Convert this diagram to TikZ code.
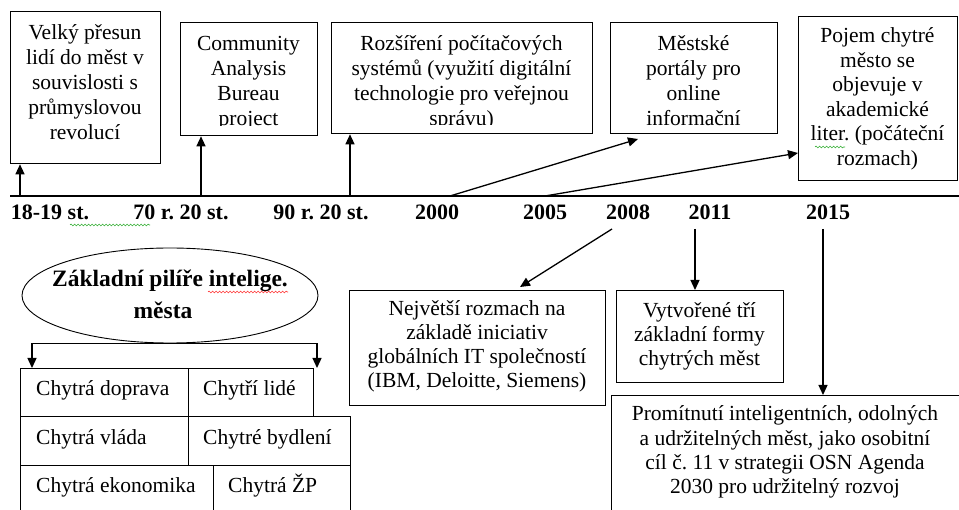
\documentclass[tikz,border=0pt]{standalone}
\usepackage{fontspec}
\setmainfont{Liberation Serif}
\usetikzlibrary{arrows.meta,shapes.geometric,decorations.pathmorphing}
\frenchspacing

\begin{document}
\begin{tikzpicture}[x=1pt,y=-1pt,
  box/.style={draw,line width=1.3pt,inner sep=0,anchor=north west},
  txt/.style={align=center,inner sep=0,anchor=north,font=\fontsize{21.5}{25}\selectfont},
  celltxt/.style={inner sep=0,anchor=base west,font=\fontsize{21.5}{25}\selectfont},
  yr/.style={inner sep=0,anchor=base,font=\fontsize{22}{25}\selectfont\bfseries},
  ellfont/.style={inner sep=0,anchor=base,font=\fontsize{23.5}{25}\selectfont\bfseries},
  arr/.style={line width=1.3pt,-{Triangle[length=10pt,width=9pt]}},
  squiggle/.style={line width=0.6pt,decorate,decoration={snake,amplitude=0.9pt,segment length=3.5pt}}
]
\useasboundingbox (0,0) rectangle (959,510);
\clip (0,0) rectangle (959,510);

% timeline
\coordinate (tl0) at (10,196);
\coordinate (tl1) at (962,196);
\draw[line width=1.5pt] (tl0) -- (tl1);

% year labels
\node[yr] (y1) at (50,220) {18-19 st.};
\node[yr] (y2) at (181,220) {70 r. 20 st.};
\node[yr] (y3) at (321,220) {90 r. 20 st.};
\node[yr] (y4) at (437,220) {2000};
\node[yr] (y5) at (545,220) {2005};
\node[yr] (y6) at (628,220) {2008};
\node[yr] (y7) at (710,220) {2011};
\node[yr] (y8) at (828,220) {2015};

% upper event boxes
\node[box,minimum width=150pt,minimum height=152pt] (b1) at (10,11) {};
\node[txt] (t1) at (85,21.5) {\strut Velký přesun\\lidí do měst v\\souvislosti s\\průmyslovou\\revolucí};

\node[box,minimum width=137pt,minimum height=113pt] (b2) at (180,22) {};
\begin{scope}
  \clip (180,22) rectangle (317,126);
  \node[txt] (t2) at (248.5,32.5) {\strut Community\\Analysis\\Bureau\\project};
\end{scope}

\node[box,minimum width=261pt,minimum height=111pt] (b3) at (331,22) {};
\begin{scope}
  \clip (331,22) rectangle (592,125);
  \node[txt] (t3) at (461.5,32.5) {\strut Rozšíření počítačových\\systémů (využití digitální\\technologie pro veřejnou\\správu)};
\end{scope}

\node[box,minimum width=167pt,minimum height=111pt] (b4) at (610,22) {};
\node[txt] (t4) at (693.5,32.5) {\strut Městské\\portály pro\\online\\informační};

\node[box,minimum width=159pt,minimum height=164pt] (b5) at (798,16) {};
\node[txt,font=\fontsize{21.5}{24.5}\selectfont] (t5) at (877.5,25.5) {\strut Pojem chytré\\město se\\objevuje v\\akademické\\liter. (počáteční\\rozmach)};

% arrows from the timeline up to the boxes
\coordinate (p1) at (20,196);
\coordinate (p2) at (201,196);
\coordinate (p3) at (350,196);
\coordinate (p4) at (450,196);
\coordinate (p5) at (545,196);
\draw[arr] (p1) -- (p1 |- b1.south);
\draw[arr] (p2) -- (p2 |- b2.south);
\draw[arr] (p3) -- (p3 |- b3.south);
\coordinate (e4) at (638,139);
\draw[arr] (p4) -- (e4);
\draw[arr] (p5) -- (b5.west |- 0,153);

% lower event boxes
\node[box,minimum width=256pt,minimum height=115pt] (b6) at (349,290) {};
\node[txt,font=\fontsize{21.5}{24}\selectfont] (t6) at (477,298.5) {\strut Největší rozmach na\\základě iniciativ\\globálních IT společností\\(IBM, Deloitte, Siemens)};

\node[box,minimum width=167pt,minimum height=92pt] (b7) at (616,290) {};
\node[txt,font=\fontsize{21.5}{24}\selectfont] (t7) at (699.5,300.5) {\strut Vytvořené tří\\základní formy\\chytrých měst};

\node[box,minimum width=352pt,minimum height=130pt] (b8) at (611,395) {};
\node[txt,font=\fontsize{21.5}{24.4}\selectfont] (t8) at (785,403.5) {\strut Promítnutí inteligentních, odolných\\a udržitelných měst, jako osobitní\\cíl č. 11 v strategii OSN Agenda\\2030 pro udržitelný rozvoj};

% arrows from the years down to the boxes
\coordinate (q6) at (612,229);
\coordinate (q7) at (695,229);
\coordinate (q8) at (823,229);
\draw[arr] (q6) -- (520,287);
\draw[arr] (q7) -- (q7 |- b7.north);
\draw[arr] (q8) -- (q8 |- b8.north);

% pillars of the smart city
\node[draw,ellipse,line width=0.9pt,minimum width=296pt,minimum height=95pt,inner sep=0] (ell) at (170,295.5) {};
\node[ellfont] (et1) at (170,287) {Základní pilíře intelige.};
\node[ellfont] (et2) at (163,319) {města};

\coordinate (bl) at (32,368);
\coordinate (br) at (317,368);
\draw[arr] (ell.south) -| (bl);
\draw[arr] (ell.south) -| (br);

\node[box,minimum width=168pt,minimum height=48pt] (c11) at (20,368) {};
\node[box,minimum width=125pt,minimum height=48pt] (c12) at (188,368) {};
\node[box,minimum width=168pt,minimum height=49pt] (c21) at (20,416) {};
\node[box,minimum width=162pt,minimum height=49pt] (c22) at (188,416) {};
\node[box,minimum width=193pt,minimum height=60pt] (c31) at (20,465) {};
\node[box,minimum width=137pt,minimum height=60pt] (c32) at (213,465) {};

\node[celltxt] (ct11) at (36,396) {Chytrá doprava};
\node[celltxt] (ct12) at (203,396) {Chytří lidé};
\node[celltxt] (ct21) at (36,445) {Chytrá vláda};
\node[celltxt] (ct22) at (203,445) {Chytré bydlení};
\node[celltxt] (ct31) at (36,493) {Chytrá ekonomika};
\node[celltxt] (ct32) at (228,493) {Chytrá ŽP};

% spell-check underlines
\draw[squiggle,green!60!black!80] (70,225) -- (150,225);
\draw[squiggle,red!80] (208,292) -- (288,292);
\draw[squiggle,green!60!black!80] (815,147) -- (845,147);
\end{tikzpicture}
\end{document}
